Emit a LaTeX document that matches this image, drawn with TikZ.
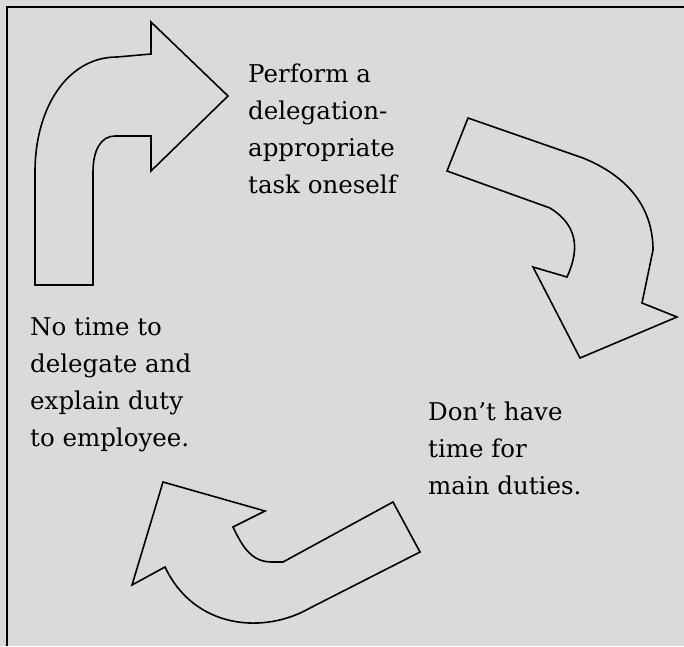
\documentclass[tikz,border=0pt]{standalone}
\usepackage{fontspec}
\setmainfont{DejaVu Serif}
\definecolor{paper}{RGB}{218,218,218}
\begin{document}
\begin{tikzpicture}[x=1pt,y=-1pt,
  bigarrow/.style={draw=black,line width=1.6pt,line join=miter},
  frameline/.style={draw=black,line width=2.6pt},
  label/.style={font=\fontsize{24.5}{37}\selectfont,align=left,anchor=north west,inner sep=0pt}]
\fill[paper] (0,0) rectangle (684,646);
\useasboundingbox (0,0) rectangle (684,646);
\coordinate (tl) at (7,7);
\coordinate (tr) at (684,7);
\coordinate (bl) at (7,646);
\draw[frameline] (tr) -- (tl) -- (bl);
% top-left arrow
\draw[bigarrow] (35,285) -- (35,172) .. controls (35,107) and (68,57) .. (117,57)
  -- (151,54) -- (151,22) -- (228,96) -- (151,171) -- (151,136) -- (115,136)
  .. controls (101,136) and (93,150) .. (93,172) -- (93,285) -- cycle;
% right arrow
\draw[bigarrow] (468,118) -- (583,158) .. controls (625,175) and (653,205) .. (653,250)
  -- (642,303) -- (677,317) -- (580,358) -- (533,267) -- (567,277)
  .. controls (577,255) and (582,228) .. (550,208) -- (447,171) -- cycle;
% bottom arrow
\draw[bigarrow] (132,585) -- (163,482) -- (265,511) -- (233,527)
  .. controls (243,548) and (252,562) .. (272,562) -- (283,562) -- (393,502)
  -- (420,552) -- (310,608) .. controls (265,634) and (195,630) .. (165,567) -- cycle;
\node[label] (perform) at (248,64) {Perform a\\delegation-\\appropriate\\task oneself};
\node[label] (notime) at (30,317) {No time to\\delegate and\\explain duty\\to employee.};
\node[label] (donthave) at (428,402) {Don’t have\\time for\\main duties.};
\end{tikzpicture}
\end{document}
